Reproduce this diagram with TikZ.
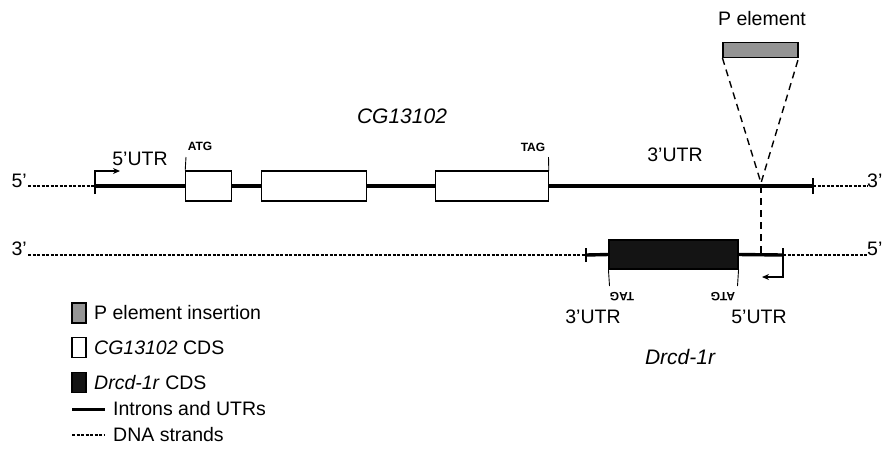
\documentclass[tikz,border=0pt]{standalone}
\usepackage{fontspec}
\setmainfont{Liberation Sans}
\usetikzlibrary{arrows.meta}
\begin{document}
\begin{tikzpicture}[x=1pt,y=-1pt,
  lbl/.style={font=\fontsize{19.5}{23}\selectfont, inner sep=0pt},
  gene/.style={font=\fontsize{21}{25}\selectfont\itshape, inner sep=0pt},
  small/.style={font=\fontsize{12}{14}\selectfont\bfseries, inner sep=0pt},
  thick line/.style={line width=3.4pt},
  strand/.style={line width=2pt, dash pattern=on 3pt off 1.5pt},
  tickmark/.style={line width=1.8pt},
  cds/.style={draw, line width=1.1pt, fill=white, inner sep=0pt, minimum height=30pt},
  dcds/.style={draw, line width=1.1pt, fill=black!92, inner sep=0pt, minimum height=29pt},
  pel/.style={draw, line width=1.1pt, fill=black!42, inner sep=0pt},
  ins/.style={line width=1.4pt, dash pattern=on 7pt off 5pt},
  tss/.style={line width=1.1pt, -{Stealth[length=7pt,width=6pt]}},
  leg/.style={draw, line width=1.1pt, inner sep=0pt, minimum width=14pt, minimum height=20pt}]
\useasboundingbox (0,0) rectangle (882,451);

% ---------- top strand (CG13102) ----------
\coordinate (s5) at (28,186);
\coordinate (t1) at (95,186);
\coordinate (t2) at (813,186);
\coordinate (s3) at (868,186);
\node[cds, minimum width=45.5pt] (e1) at (208.5,186) {};
\node[cds, minimum width=105pt] (e2) at (314.2,186) {};
\node[cds, minimum width=112.5pt] (e3) at (492,186) {};
\draw[strand] (s5) -- (t1);
\draw[strand] (t2) -- (s3);
\draw[thick line] (t1) -- (e1.west);
\draw[thick line] (e1.east) -- (e2.west);
\draw[thick line] (e2.east) -- (e3.west);
\draw[thick line] (e3.east) -- (t2);
\draw[tickmark] ([yshift=-8pt]t1) -- ([yshift=8pt]t1);
\draw[tickmark] ([yshift=-8pt]t2) -- ([yshift=8pt]t2);
\node[cds, minimum width=45.5pt] at (e1) {};
\node[cds, minimum width=105pt] at (e2) {};
\node[cds, minimum width=112.5pt] at (e3) {};

\node[lbl, anchor=base east] (l5a) at (27,187) {5'};
\node[lbl, anchor=base west] (l3a) at (867,187) {3'};
\coordinate (tssA) at (95,171);
\draw[tss] (t1) -- (tssA) -- (120,171);
\node[lbl] (utr5a) at (140,159) {5'UTR};
\coordinate (atgA) at (186,157);
\draw[line width=0.9pt] (e1.north west) -- (atgA);
\node[small] (atgAl) at (200,146) {ATG};
\coordinate (tagA) at (548.5,157);
\draw[line width=0.9pt] (e3.north east) -- (tagA);
\node[small] (tagAl) at (533,147) {TAG};
\node[lbl] (utr3a) at (675,155) {3'UTR};
\node[gene] (geneA) at (402,116) {CG13102};

% ---------- P element ----------
\node[pel, minimum width=75pt, minimum height=15pt] (pe) at (760.5,50) {};
\node[lbl] (pelbl) at (762,19) {P element};
\coordinate (insA) at (761,183);
\coordinate (insT) at (761,186);
\coordinate (insB) at (761,255);
\draw[ins] (pe.south west) -- (insA) -- (pe.south east);
\draw[ins] (insT) -- (insB);

% ---------- bottom strand (Drcd-1r) ----------
\coordinate (b3) at (28,255);
\coordinate (u1) at (586,255);
\coordinate (u2) at (783,255);
\coordinate (b5) at (868,255);
\node[dcds, minimum width=129pt] (d1) at (673.5,254.5) {};
\draw[strand] (b3) -- (u1);
\draw[strand] (u2) -- (b5);
\draw[thick line] (u1) -- (d1.west);
\draw[thick line] (d1.east) -- (u2);
\draw[tickmark] ([yshift=-7pt]u1) -- ([yshift=7pt]u1);
\draw[tickmark] ([yshift=-7pt]u2) -- ([yshift=7pt]u2);
\node[lbl, anchor=base east] (l3b) at (27,255) {3'};
\node[lbl, anchor=base west] (l5b) at (867,255) {5'};
\coordinate (tssB) at (783,277);
\draw[tss] (u2) -- (tssB) -- (762,277);
\coordinate (tagB) at (609.5,286);
\coordinate (atgB) at (737.5,286);
\draw[line width=0.9pt] (d1.south west) -- (tagB);
\draw[line width=0.9pt] (d1.south east) -- (atgB);
\node[small, rotate=180] (tagBl) at (622,297) {TAG};
\node[small, rotate=180] (atgBl) at (723,297) {ATG};
\node[lbl] (utr3b) at (593,317) {3'UTR};
\node[lbl] (utr5b) at (759,317) {5'UTR};
\node[gene] (geneB) at (680,357) {Drcd-1r};

% ---------- legend ----------
\node[leg, fill=black!42] (k1) at (79,313) {};
\node[lbl, anchor=west] (k1l) at (94,313) {P element insertion};
\node[leg, fill=white] (k2) at (79,347.5) {};
\node[lbl, anchor=west] (k2l) at (94,348) {\textit{CG13102} CDS};
\node[leg, fill=black!92] (k3) at (79,382.5) {};
\node[lbl, anchor=west] (k3l) at (94,383) {\textit{Drcd-1r} CDS};
\coordinate (k4a) at (72,409);
\coordinate (k4b) at (105,409);
\draw[line width=3pt] (k4a) -- (k4b);
\node[lbl, anchor=west] (k4l) at (113,409) {Introns and UTRs};
\coordinate (k5a) at (72,435);
\coordinate (k5b) at (105,435);
\draw[strand] (k5a) -- (k5b);
\node[lbl, anchor=west] (k5l) at (113,435) {DNA strands};
\end{tikzpicture}
\end{document}
